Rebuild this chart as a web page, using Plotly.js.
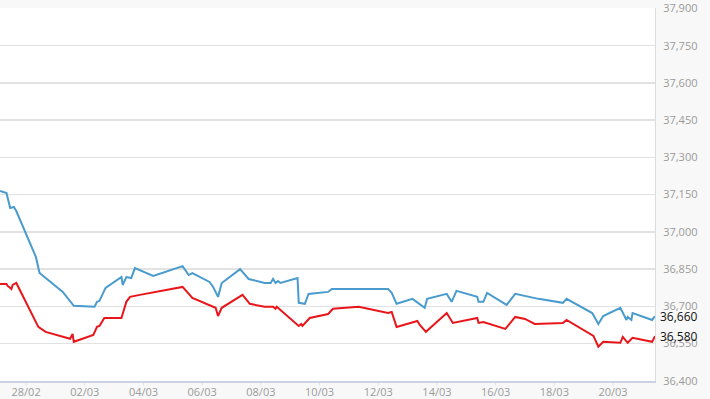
<!DOCTYPE html>
<html>
<head>
<meta charset="utf-8">
<script src="https://cdn.plot.ly/plotly-3.0.1.min.js"></script>
<style>
  html, body { margin: 0; padding: 0; background: #f8f8f8; }
  #chart { width: 710px; height: 399px; }
</style>
</head>
<body>
<div id="chart"></div>
<script>
// Blue series (time, value)
const blueTimes = [
  "2023-02-27 02:40","2023-02-27 08:00","2023-02-27 11:00","2023-02-27 14:00","2023-02-27 16:00",
  "2023-02-28 08:00","2023-02-28 11:00","2023-03-01 06:00","2023-03-01 15:00","2023-03-02 08:00",
  "2023-03-02 10:00","2023-03-02 12:00","2023-03-02 17:00","2023-03-03 06:00","2023-03-03 07:00",
  "2023-03-03 10:00","2023-03-03 14:00","2023-03-03 17:00","2023-03-04 08:00","2023-03-05 08:00",
  "2023-03-05 13:00","2023-03-05 16:00","2023-03-06 06:00","2023-03-06 09:00","2023-03-06 13:00",
  "2023-03-06 16:00","2023-03-07 07:00","2023-03-07 14:00","2023-03-08 03:00","2023-03-08 08:00",
  "2023-03-08 10:00","2023-03-08 12:00","2023-03-08 14:00","2023-03-08 16:00","2023-03-09 06:00",
  "2023-03-09 07:00","2023-03-09 12:00","2023-03-09 15:00","2023-03-10 07:00","2023-03-10 10:00",
  "2023-03-12 08:00","2023-03-12 11:00","2023-03-12 15:00","2023-03-13 04:00","2023-03-13 14:00",
  "2023-03-13 16:00","2023-03-14 08:00","2023-03-14 12:00","2023-03-14 16:00","2023-03-15 09:00",
  "2023-03-15 10:00","2023-03-15 14:00","2023-03-15 17:00","2023-03-16 09:00","2023-03-16 16:00",
  "2023-03-17 00:00","2023-03-17 11:00","2023-03-18 07:00","2023-03-18 10:00","2023-03-19 07:00",
  "2023-03-19 12:00","2023-03-19 16:00","2023-03-20 06:00","2023-03-20 11:00","2023-03-20 12:00",
  "2023-03-20 15:00","2023-03-20 16:00","2023-03-21 08:00","2023-03-21 10:20"
];
const blueValues = [
  37165,37156,37096,37100,37084,
  36899,36834,36758,36702,36698,
  36718,36722,36774,36818,36786,
  36818,36814,36854,36822,36862,
  36826,36834,36798,36778,36738,
  36794,36850,36810,36794,36794,
  36810,36794,36802,36794,36814,
  36714,36710,36750,36758,36770,
  36770,36754,36710,36730,36694,
  36730,36750,36718,36762,36738,
  36718,36718,36754,36706,36750,
  36742,36730,36714,36730,36673,
  36629,36661,36694,36645,36657,
  36645,36673,36645,36660
];

// Red series (time, value)
const redTimes = [
  "2023-02-27 02:40","2023-02-27 08:00","2023-02-27 09:00","2023-02-27 12:00","2023-02-27 13:00",
  "2023-02-27 16:00","2023-02-28 10:00","2023-02-28 16:00","2023-03-01 12:00","2023-03-01 14:00",
  "2023-03-01 15:00","2023-03-02 07:00","2023-03-02 10:00","2023-03-02 12:00","2023-03-02 16:00",
  "2023-03-03 06:00","2023-03-03 10:00","2023-03-03 13:00","2023-03-03 21:00","2023-03-05 08:00",
  "2023-03-05 16:00","2023-03-06 11:00","2023-03-06 13:00","2023-03-06 16:00","2023-03-07 09:00",
  "2023-03-07 15:00","2023-03-08 03:00","2023-03-08 10:00","2023-03-08 12:00","2023-03-08 13:00",
  "2023-03-09 07:00","2023-03-09 09:00","2023-03-09 10:00","2023-03-09 16:00","2023-03-10 07:00",
  "2023-03-10 11:00","2023-03-11 08:00","2023-03-12 08:00","2023-03-12 11:00","2023-03-12 15:00",
  "2023-03-13 08:00","2023-03-13 10:00","2023-03-13 15:00","2023-03-14 08:00","2023-03-14 13:00",
  "2023-03-15 09:00","2023-03-15 10:00","2023-03-15 14:00","2023-03-16 08:00","2023-03-16 16:00",
  "2023-03-17 00:00","2023-03-17 08:00","2023-03-18 07:00","2023-03-18 10:00","2023-03-19 08:00",
  "2023-03-19 12:00","2023-03-19 16:00","2023-03-20 06:00","2023-03-20 08:00","2023-03-20 12:00",
  "2023-03-20 16:00","2023-03-21 08:00","2023-03-21 10:20"
];
const redValues = [
  36790,36790,36782,36770,36786,
  36794,36617,36597,36569,36589,
  36557,36585,36617,36621,36653,
  36653,36718,36738,36746,36778,
  36734,36694,36661,36694,36746,
  36710,36698,36698,36690,36698,
  36621,36629,36621,36653,36669,
  36690,36698,36673,36677,36617,
  36641,36625,36597,36673,36633,
  36653,36633,36637,36609,36657,
  36649,36629,36633,36645,36581,
  36537,36557,36553,36577,36553,
  36573,36557,36580
];

const yTickValues = [36400,36550,36700,36850,37000,37150,37300,37450,37600,37750,37900];
const xTickValues = ["2023-02-28","2023-03-02","2023-03-04","2023-03-06","2023-03-08","2023-03-10",
                     "2023-03-12","2023-03-14","2023-03-16","2023-03-18","2023-03-20"];
const xTickLabels = ["28/02","02/03","04/03","06/03","08/03","10/03","12/03","14/03","16/03","18/03","20/03"];
const lastBlueLabel = "36,660";
const lastRedLabel = "36,580";

const traces = [
  {x: blueTimes, y: blueValues, type: "scatter", mode: "lines",
   line: {color: "#4a9bcd", width: 2}, hoverinfo: "skip", cliponaxis: false},
  {x: redTimes, y: redValues, type: "scatter", mode: "lines",
   line: {color: "#e8161a", width: 2}, hoverinfo: "skip", cliponaxis: false}
];

// small tick marks below the x axis, at the tick dates
const tickShapes = xTickValues.map(function (d) {
  return {type: "line", xref: "x", yref: "paper", x0: d, x1: d, y0: 0, y1: -0.012,
          line: {color: "#dde3ec", width: 1}, layer: "below"};
});

const layout = {
  width: 710, height: 399,
  margin: {l: 0, r: 55, t: 8, b: 18, pad: 0},
  paper_bgcolor: "#f8f8f8",
  plot_bgcolor: "#ffffff",
  showlegend: false,
  font: {family: "Open Sans, sans-serif", size: 11, color: "#9a9a9a"},
  xaxis: {
    type: "date",
    range: ["2023-02-27 02:40", "2023-03-21 10:20"],
    tickvals: xTickValues, ticktext: xTickLabels,
    showgrid: false, zeroline: false,
    showline: true, linecolor: "#c9d3e2", linewidth: 1.5,
    ticks: "", ticklabelstandoff: 0,
    tickfont: {family: "Open Sans, sans-serif", size: 11, color: "#9a9a9a"},
    ticklabeloverflow: "allow",
    fixedrange: true
  },
  yaxis: {
    side: "right",
    range: [36399, 37902],
    tickvals: yTickValues, tickformat: ",d",
    showgrid: true, gridcolor: "#e2e2e2", gridwidth: 1.5,
    zeroline: false,
    showline: true, linecolor: "#dcdcdc", linewidth: 1,
    ticks: "", ticklabelstandoff: 5,
    ticklabeloverflow: "allow",
    tickfont: {family: "Open Sans, sans-serif", size: 11, color: "#9a9a9a"},
    fixedrange: true
  },
  shapes: tickShapes,
  annotations: [
    {xref: "paper", x: 1, xanchor: "left", xshift: 3, yref: "y", y: 36660, yanchor: "middle",
     text: lastBlueLabel, showarrow: false, font: {family: "Open Sans, sans-serif", size: 12, color: "#111"}},
    {xref: "paper", x: 1, xanchor: "left", xshift: 3, yref: "y", y: 36580, yanchor: "middle",
     text: lastRedLabel, showarrow: false, font: {family: "Open Sans, sans-serif", size: 12, color: "#111"}}
  ]
};

Plotly.newPlot("chart", traces, layout, {staticPlot: true, displayModeBar: false});
</script>
</body>
</html>
